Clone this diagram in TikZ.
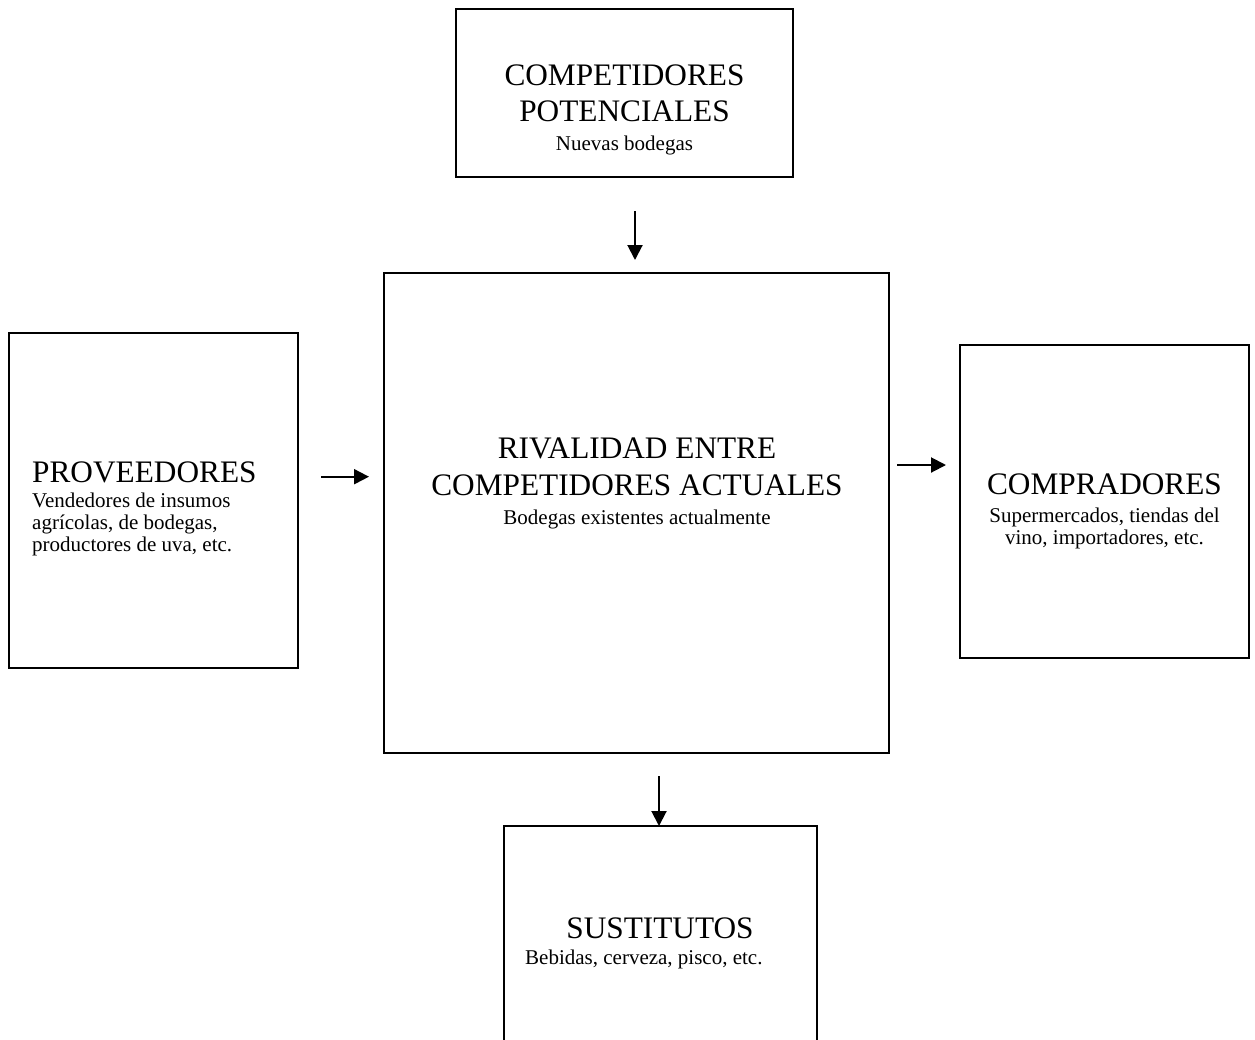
\documentclass[tikz,border=0pt]{standalone}
\usepackage{fontspec}
\setmainfont{Liberation Serif}
\usetikzlibrary{arrows.meta,calc}
\begin{document}
\begin{tikzpicture}[x=1pt,y=-1pt,
  box/.style={draw, line width=1.6pt, inner sep=0pt, outer sep=0pt},
  big/.style={font=\fontsize{31.3}{36}\selectfont, inner sep=0pt, anchor=base},
  small/.style={font=\fontsize{21}{22}\selectfont, inner sep=0pt, anchor=base},
  arr/.style={line width=2pt, -{Triangle[length=15pt,width=15pt]}}]
\useasboundingbox[fill=white] (0,0) rectangle (1255,1039);
% boxes
\node[box, minimum width=337pt, minimum height=168pt] (top) at (624.5,93) {};
\node[box, minimum width=505pt, minimum height=480pt] (center) at (636.5,513) {};
\node[box, minimum width=289pt, minimum height=335pt] (left) at (153.5,500.5) {};
\node[box, minimum width=289pt, minimum height=313pt] (right) at (1104.5,501.5) {};
\node[box, minimum width=313pt, minimum height=240pt] (bottom) at (660.5,946) {};
% texts
\node[big] (t1) at (624.5,85) {COMPETIDORES};
\node[big] (t2) at (624.5,121.5) {POTENCIALES};
\node[small] (t3) at (624.5,150.5) {Nuevas bodegas};
\node[big] (c1) at (637,458) {RIVALIDAD ENTRE};
\node[big] (c2) at (637,495) {COMPETIDORES ACTUALES};
\node[small] (c3) at (637,524) {Bodegas existentes actualmente};
\node[big, anchor=base west] (l1) at (32,482) {PROVEEDORES};
\node[small, anchor=base west] (l2) at (32,507.5) {Vendedores de insumos};
\node[small, anchor=base west] (l3) at (32,529.5) {agrícolas, de bodegas,};
\node[small, anchor=base west] (l4) at (32,551.5) {productores de uva, etc.};
\node[big] (r1) at (1104.5,494) {COMPRADORES};
\node[small] (r2) at (1104.5,522) {Supermercados, tiendas del};
\node[small] (r3) at (1104.5,544) {vino, importadores, etc.};
\node[big] (b1) at (660,938) {SUSTITUTOS};
\node[small, anchor=base west] (b2) at (525,964) {Bebidas, cerveza, pisco, etc.};
% arrows
\draw[arr, shorten <=34pt, shorten >=13pt] ([xshift=-1.5pt]center.north |- top.south) -- ([xshift=-1.5pt]center.north);
\draw[arr, shorten <=23pt, shorten >=15pt] ([yshift=23.8pt]left.east) -- ([yshift=23.8pt]left.east -| center.west);
\draw[arr, shorten <=8pt, shorten >=14pt] ([yshift=36.5pt]right.west -| center.east) -- ([yshift=36.5pt]right.west);
\draw[arr, shorten <=23pt] ([xshift=-1.5pt]bottom.north |- center.south) -- ([xshift=-1.5pt]bottom.north);
\end{tikzpicture}
\end{document}
